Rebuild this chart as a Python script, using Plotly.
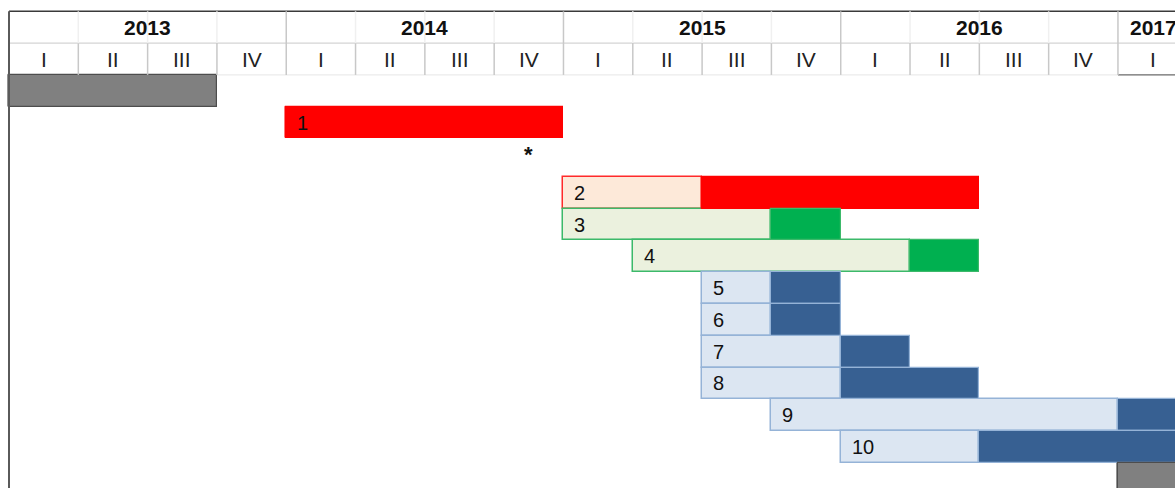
import plotly.graph_objects as go

# ---------------- data ----------------
years = ["2013", "2014", "2015", "2016", "2017"]
quarter_names = ["I", "II", "III", "IV"]

task_labels = ["", "1", "2", "3", "4", "5", "6", "7", "8", "9", "10", ""]
task_rows = [0, 1, 3.21, 4.21, 5.21, 6.21, 7.21, 8.21, 9.21, 10.21, 11.21, 12.21]
# quarters counted from 2013 Q I = 0
phase1_start = [0, 4, 8, 8, 9, 10, 10, 10, 10, 11, 12, 16]
phase2_start = [0, 4, 10, 11, 13, 11, 11, 12, 12, 16, 14, 16]
phase2_end = [3, 8, 14, 12, 14, 12, 12, 13, 14, 17, 17, 17]
task_group = ["gray", "red", "red", "green", "green", "blue", "blue", "blue",
              "blue", "blue", "blue", "gray"]

note_text = "*"
note_quarter = 7.5
note_row = 2.0

# ---------------- styles ----------------
light_fill = {"gray": "#808080", "red": "#fde9d9", "green": "#ebf1de", "blue": "#dce6f2"}
dark_fill = {"gray": "#808080", "red": "#ff0000", "green": "#00b050", "blue": "#376092"}
outline = {"gray": "#4d4d4d", "red": "#ff2a2a", "green": "#3cb96a", "blue": "#95b3d7"}
FONT = "Liberation Sans, Arial"

X0, X1 = -0.1299, 16.823
Y0, Y1 = 12.50, -2.857

fig = go.Figure()

light_dur = [b - a for a, b in zip(phase1_start, phase2_start)]
dark_dur = [b - a for a, b in zip(phase2_start, phase2_end)]

fig.add_trace(go.Bar(
    orientation="h", y=task_rows, x=light_dur, base=phase1_start, width=1,
    marker=dict(color=[light_fill[g] for g in task_group],
                line=dict(color=[outline[g] for g in task_group], width=1.5)),
    hoverinfo="skip", showlegend=False))
fig.add_trace(go.Bar(
    orientation="h", y=task_rows, x=dark_dur, base=phase2_start, width=1,
    marker=dict(color=[dark_fill[g] for g in task_group],
                line=dict(color=[outline[g] if g != "red" else dark_fill[g] for g in task_group],
                          width=1.2)),
    hoverinfo="skip", showlegend=False))

shapes = []
annotations = []
n_q = len(years) * 4
# header horizontal lines
shapes.append(dict(type="line", xref="x", yref="y", x0=0, x1=X1, y0=-2.5, y1=-2.5,
                   line=dict(color="#3a3a3a", width=1.5)))
shapes.append(dict(type="line", xref="x", yref="y", x0=0, x1=X1, y0=-1.5, y1=-1.5,
                   line=dict(color="#d4d4d4", width=1.2)))
shapes.append(dict(type="line", xref="x", yref="y", x0=3, x1=16, y0=-0.5, y1=-0.5,
                   line=dict(color="#e6e6e6", width=1)))
shapes.append(dict(type="line", xref="x", yref="y", x0=16, x1=X1, y0=-0.5, y1=-0.5,
                   line=dict(color="#6a6a6a", width=1.2)))
# header vertical lines
for q in range(1, n_q):
    is_year = q % 4 == 0
    shapes.append(dict(type="line", xref="x", yref="y", x0=q, x1=q, y0=-1.5, y1=-0.5,
                       line=dict(color="#c8c8c8", width=1.5)))
    shapes.append(dict(type="line", xref="x", yref="y", x0=q, x1=q, y0=-2.5, y1=-1.5,
                       line=dict(color="#c8c8c8" if is_year else "#f0f0f0", width=1.5)))
# left border
shapes.append(dict(type="line", xref="x", yref="y", x0=0, x1=0, y0=-2.5, y1=Y0,
                   line=dict(color="#5a5a5a", width=2)))

for i, yr in enumerate(years):
    if 4 * i + 2 < X1:
        annotations.append(dict(x=4 * i + 2, y=-2, xref="x", yref="y", text="<b>" + yr + "</b>",
                                showarrow=False, font=dict(size=21, color="#111111", family=FONT)))
    else:
        annotations.append(dict(x=4 * i, y=-2, xref="x", yref="y", text="<b>" + yr + "</b>",
                                xanchor="left", xshift=10,
                                showarrow=False, font=dict(size=21, color="#111111", family=FONT)))
    for j, qn in enumerate(quarter_names):
        xc = 4 * i + j + 0.5
        if xc < X1:
            annotations.append(dict(x=xc, y=-1, xref="x", yref="y", text=qn,
                                    showarrow=False, font=dict(size=21, color="#222222", family=FONT)))

for lab, r, s in zip(task_labels, task_rows, phase1_start):
    if lab:
        annotations.append(dict(x=s, y=r, xref="x", yref="y", text=lab, xanchor="left",
                                xshift=9, showarrow=False,
                                font=dict(size=20, color="#111111", family=FONT)))

annotations.append(dict(x=note_quarter, y=note_row, xref="x", yref="y",
                        text="<b>" + note_text + "</b>", showarrow=False,
                        font=dict(size=22, color="#111111", family=FONT)))

fig.update_layout(
    width=1175, height=488, margin=dict(l=0, r=0, t=0, b=0),
    paper_bgcolor="white", plot_bgcolor="white",
    barmode="overlay", bargap=0,
    xaxis=dict(range=[X0, X1], visible=False, fixedrange=True),
    yaxis=dict(range=[Y0, Y1], visible=False, fixedrange=True),
    shapes=shapes, annotations=annotations,
)

fig.write_html("out.html", config={"displayModeBar": False},
               post_script="document.body.style.margin='0';document.body.style.overflow='hidden';")
